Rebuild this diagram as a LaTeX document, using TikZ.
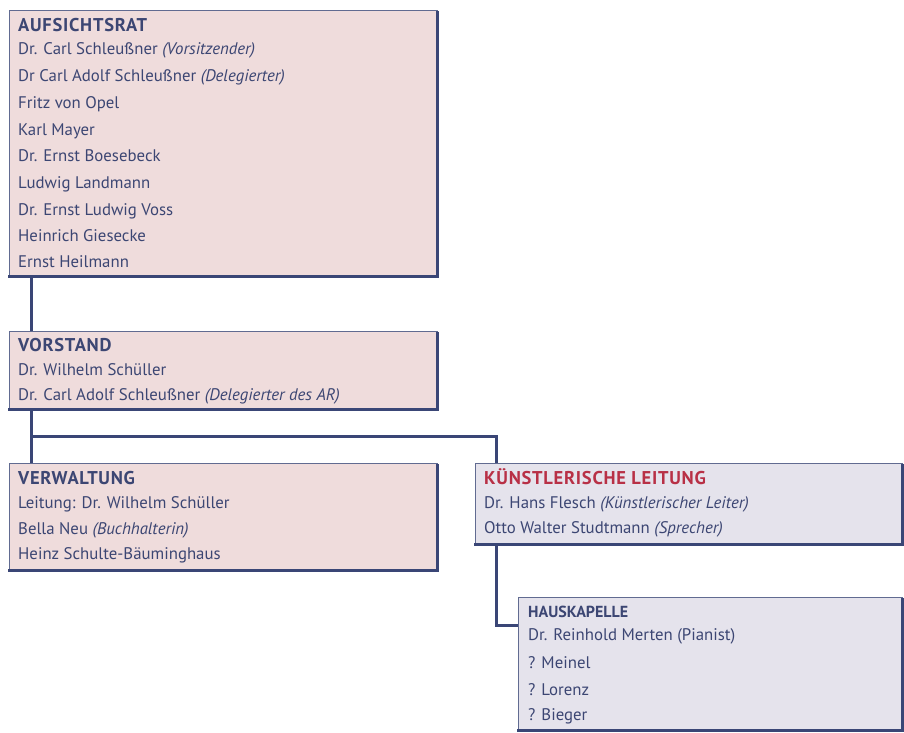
\documentclass[tikz,border=0pt]{standalone}
\usepackage{fontspec}
\setmainfont{PT Sans}
\newfontfamily\titlefont[LetterSpace=4]{PT Sans}
\definecolor{navy}{RGB}{58,70,118}
\definecolor{ink}{RGB}{60,70,115}
\definecolor{pinkfill}{RGB}{239,220,220}
\definecolor{lavfill}{RGB}{229,227,236}
\definecolor{titlered}{RGB}{184,48,70}
\begin{document}
\begin{tikzpicture}[x=1pt,y=-1pt,
  box/.style={draw=navy!80, line width=0.8pt, fill=#1, inner sep=0pt, anchor=north west},
  edge/.style={draw=navy, line width=3pt, line cap=rect},
  conn/.style={draw=navy, line width=3pt, line join=miter},
  ln/.style={anchor=base west, inner sep=0pt, text=ink, font=\fontsize{16.8}{18}\selectfont},
  ttl/.style={ln, font=\titlefont\fontsize{18.5}{20}\selectfont\bfseries},
  subttl/.style={ln, font=\fontsize{16}{18}\selectfont\bfseries},
]
\useasboundingbox (0,0) rectangle (904,732);
% boxes
\node[box=pinkfill, minimum width=428pt, minimum height=266pt] (ar) at (9,10) {};
\node[box=pinkfill, minimum width=428pt, minimum height=78pt] (vs) at (9,331) {};
\node[box=pinkfill, minimum width=428pt, minimum height=107pt] (vw) at (9,463) {};
\node[box=lavfill, minimum width=427pt, minimum height=81pt] (kl) at (475,463) {};
\node[box=lavfill, minimum width=384pt, minimum height=133pt] (hk) at (518,597) {};
\foreach \b in {ar,vs,vw,kl,hk}
  \draw[edge] ([yshift=-2pt]\b.north east) -- (\b.south east) -- (\b.south west);
% connectors
\coordinate (c1) at (31,0);
\coordinate (j) at (496,436);
\coordinate (k) at (518,625);
\draw[conn] (ar.south -| c1) -- (vs.north -| c1);
\draw[conn] (vs.south -| c1) -- (vw.north -| c1);
\draw[conn] (c1 |- j) -- (j) -- (kl.north -| j);
\draw[conn] (kl.south -| j) |- (k);
% Aufsichtsrat
\node[ttl] (ar0) at (18,31) {AUFSICHTSRAT};
\node[ln] (ar1) at (18,54) {Dr. Carl Schleußner \textit{(Vorsitzender)}};
\node[ln] (ar2) at (18,81) {Dr Carl Adolf Schleußner \textit{(Delegierter)}};
\node[ln] (ar3) at (18,108) {Fritz von Opel};
\node[ln] (ar4) at (18,135) {Karl Mayer};
\node[ln] (ar5) at (18,161) {Dr. Ernst Boesebeck};
\node[ln] (ar6) at (18,188) {Ludwig Landmann};
\node[ln] (ar7) at (18,215) {Dr. Ernst Ludwig Voss};
\node[ln] (ar8) at (18,241) {Heinrich Giesecke};
\node[ln] (ar9) at (18,267) {Ernst Heilmann};
% Vorstand
\node[ttl] (vs0) at (18,351) {VORSTAND};
\node[ln] (vs1) at (18,375) {Dr. Wilhelm Schüller};
\node[ln] (vs2) at (18,400) {Dr. Carl Adolf Schleußner \textit{(Delegierter des AR)}};
% Verwaltung
\node[ttl] (vw0) at (18,484) {VERWALTUNG};
\node[ln] (vw1) at (18,508) {Leitung: Dr. Wilhelm Schüller};
\node[ln] (vw2) at (18,534) {Bella Neu \textit{(Buchhalterin)}};
\node[ln] (vw3) at (18,559) {Heinz Schulte-Bäuminghaus};
% Kuenstlerische Leitung
\node[ttl, text=titlered] (kl0) at (484,484) {KÜNSTLERISCHE LEITUNG};
\node[ln] (kl1) at (484,508) {Dr. Hans Flesch \textit{(Künstlerischer Leiter)}};
\node[ln] (kl2) at (484,533) {Otto Walter Studtmann \textit{(Sprecher)}};
% Hauskapelle
\node[subttl] (hk0) at (528,617) {HAUSKAPELLE};
\node[ln] (hk1) at (528,640) {Dr. Reinhold Merten (Pianist)};
\node[ln] (hk2) at (528,668) {? Meinel};
\node[ln] (hk3) at (528,695) {? Lorenz};
\node[ln] (hk4) at (528,720) {? Bieger};
\end{tikzpicture}
\end{document}
